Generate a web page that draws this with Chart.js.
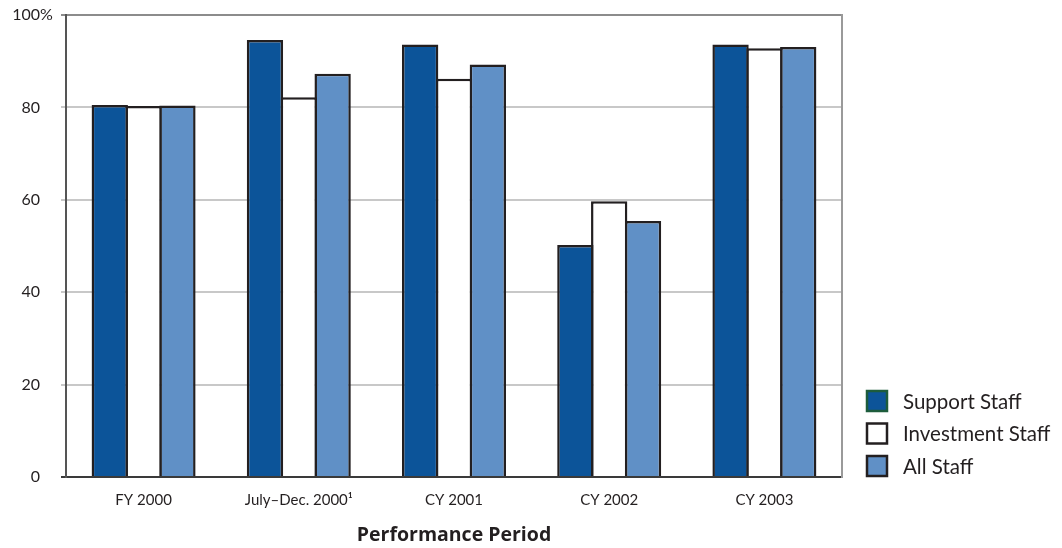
<!DOCTYPE html>
<html>
<head>
<meta charset="utf-8">
<script src="https://cdn.jsdelivr.net/npm/chart.js@4/dist/chart.umd.min.js"></script>
<style>
  html, body { margin: 0; padding: 0; background: #ffffff; }
  #wrap { width: 1062px; height: 548px; }
</style>
</head>
<body>
<div id="wrap"><canvas id="chart" width="1062" height="548"></canvas></div>
<script>
// Share of staff by performance period (percent)
const categories = ['FY 2000', 'July\u2013Dec. 2000\u00B9', 'CY 2001', 'CY 2002', 'CY 2003'];
const seriesNames = ['Support Staff', 'Investment Staff', 'All Staff'];
const supportStaff = [80.5, 94.6, 93.6, 50.2, 93.6];
const investmentStaff = [80.3, 82.2, 86.2, 59.7, 92.8];
const allStaff = [80.4, 87.3, 89.3, 55.4, 93.1];
const yTickValues = [0, 20, 40, 60, 80, 100];
const xAxisTitle = 'Performance Period';

const FONT = 'Lato, "Open Sans", sans-serif';
const TITLE_FONT = '"Open Sans"';
const INK = '#231f20';
const fills = ['#0c5499', '#ffffff', '#6090c6'];
const legendStrokes = ['#1d5c3c', INK, INK];
const BAR_BORDER = 2.5;
const CAT_PCT = 0.654;

// Bars in a group share their edge lines: widen each bar by one border width
const slotWidthRatio = CAT_PCT / 3;

const seriesValues = [supportStaff, investmentStaff, allStaff];

const legendPlugin = {
  id: 'staffLegend',
  afterDraw(chart) {
    const { ctx, chartArea } = chart;
    const x0 = chartArea.right + 25;
    const rowGap = 32.5;
    ctx.save();
    seriesNames.forEach((name, i) => {
      const cy = chartArea.bottom - 11 - (seriesNames.length - 1 - i) * rowGap;
      ctx.fillStyle = fills[i];
      ctx.fillRect(x0, cy - 10, 20, 20);
      ctx.lineWidth = 2.5;
      ctx.strokeStyle = legendStrokes[i];
      ctx.strokeRect(x0, cy - 10, 20, 20);
      ctx.fillStyle = INK;
      ctx.font = '20.5px ' + FONT;
      ctx.textAlign = 'left';
      ctx.textBaseline = 'middle';
      ctx.fillText(name, x0 + 36, cy + 1);
    });
    // percent sign hanging after the top tick label
    const yScale = chart.scales.y;
    ctx.font = '16px ' + FONT;
    ctx.fillStyle = INK;
    ctx.textAlign = 'left';
    ctx.textBaseline = 'middle';
    ctx.fillText('%', chartArea.left - 5 - 21, yScale.getPixelForValue(100));
    ctx.restore();
  }
};

function gridColor(ctx) {
  const v = ctx.tick ? ctx.tick.value : null;
  if (v === 0) return '#3a3a3a';
  if (v === 100) return '#8c8c8c';
  return '#c8c8c8';
}

new Chart(document.getElementById('chart'), {
  type: 'bar',
  data: {
    labels: categories,
    datasets: seriesNames.map((name, i) => ({
      label: name,
      data: seriesValues[i],
      backgroundColor: fills[i],
      borderColor: INK,
      borderWidth: BAR_BORDER,
      borderSkipped: 'start',
      categoryPercentage: CAT_PCT,
      barPercentage: 1
    }))
  },
  options: {
    responsive: false,
    animation: false,
    devicePixelRatio: 1,
    layout: { padding: { top: 15, right: 220, bottom: 0, left: 0 } },
    plugins: {
      legend: { display: false },
      tooltip: { enabled: false }
    },
    scales: {
      x: {
        offset: true,
        grid: { display: false, drawTicks: false },
        border: { display: true, color: '#3a3a3a', width: 2 },
        ticks: { padding: 14, color: INK, font: { family: FONT, size: 15 } },
        title: {
          display: true,
          text: xAxisTitle,
          color: INK,
          font: { family: TITLE_FONT, size: 19.5, weight: 'bold' },
          padding: { top: 0, bottom: 1 }
        },
        afterFit(scale) { scale.height = 71; }
      },
      y: {
        min: 0,
        max: 100,
        afterBuildTicks(scale) { scale.ticks = yTickValues.map(v => ({ value: v })); },
        afterFit(scale) {
          scale.width = 66;
          scale.paddingTop = 0;
          scale.paddingBottom = 0;
        },
        ticks: {
          padding: 21,
          color: INK,
          font: { family: FONT, size: 16 },
          callback: v => String(v)
        },
        grid: {
          color: gridColor,
          tickColor: gridColor,
          lineWidth: 2,
          tickLength: 5
        },
        border: { display: true, color: '#555555', width: 2 }
      },
      yRight: {
        position: 'right',
        min: 0,
        max: 100,
        ticks: { display: false },
        grid: { drawOnChartArea: false, drawTicks: false },
        border: { display: true, color: '#9a9a9a', width: 2 },
        afterFit(scale) {
          scale.width = 0;
          scale.paddingTop = 0;
          scale.paddingBottom = 0;
        }
      }
    }
  },
  plugins: [legendPlugin]
});

// widen bars so neighbouring edges overlap into a single line
(function () {
  const chart = Chart.getChart('chart');
  const catWidth = chart.chartArea.width / categories.length;
  const slot = catWidth * slotWidthRatio;
  chart.data.datasets.forEach(ds => { ds.barPercentage = (slot + BAR_BORDER) / slot; });
  chart.update('none');
})();
</script>
</body>
</html>
